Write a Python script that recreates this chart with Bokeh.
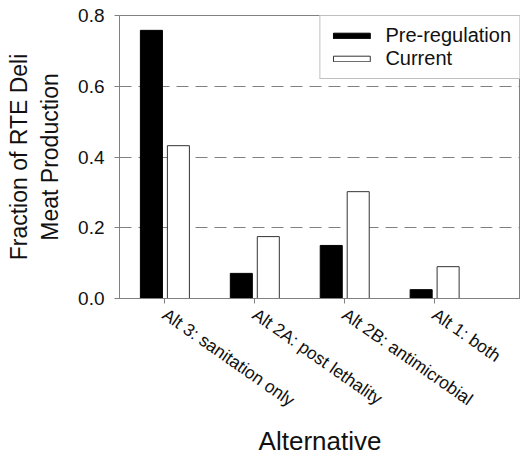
from bokeh.plotting import figure
from bokeh.models import ColumnDataSource, Range1d, FixedTicker, Legend, LegendItem, CustomJSTickFormatter
from bokeh.transform import dodge
from bokeh.embed import file_html
from bokeh.resources import INLINE

categories = ["Alt 3: sanitation only", "Alt 2A: post lethality",
              "Alt 2B: antimicrobial", "Alt 1: both"]
positions = [1, 2, 3, 4]
pre_regulation = [0.758, 0.071, 0.150, 0.025]
current = [0.432, 0.175, 0.302, 0.090]
y_ticks = [0.0, 0.2, 0.4, 0.6, 0.8]

FONT = "Liberation Sans"
GRAY = "#808080"

src = ColumnDataSource(dict(x=positions, pre=pre_regulation, cur=current))

p = figure(width=520, height=459, output_backend="svg", toolbar_location=None,
           x_range=Range1d(0.5, 4.96), y_range=Range1d(0, 0.8),
           min_border_left=119, min_border_right=0, min_border_top=15,
           min_border_bottom=161)

r1 = p.vbar(x=dodge("x", -0.145, range=p.x_range), top="pre", width=0.245, source=src,
            fill_color="black", line_color="black", line_width=1)
r2 = p.vbar(x=dodge("x", 0.155, range=p.x_range), top="cur", width=0.245, source=src,
            fill_color="white", line_color="#333333", line_width=1)

p.outline_line_color = GRAY
p.outline_line_width = 1
p.background_fill_color = "white"
p.border_fill_color = "white"

p.xgrid.visible = False
p.ygrid.ticker = FixedTicker(ticks=[0.2, 0.4, 0.6])
p.ygrid.grid_line_color = GRAY
p.ygrid.grid_line_dash = "12 7"
p.ygrid.grid_line_width = 1

ya = p.yaxis[0]
ya.ticker = FixedTicker(ticks=y_ticks)
ya.formatter = CustomJSTickFormatter(code="return tick.toFixed(1);")
ya.axis_line_color = GRAY
ya.major_tick_line_color = GRAY
ya.major_tick_out = 5
ya.major_tick_in = 0
ya.minor_tick_line_color = None
ya.major_label_text_font = FONT
ya.major_label_text_font_size = "19px"
ya.major_label_text_color = "#111111"
ya.major_label_standoff = 10
ya.axis_label = "Fraction of RTE Deli\nMeat Production"
ya.axis_label_text_font = FONT
ya.axis_label_text_font_size = "23px"
ya.axis_label_text_font_style = "normal"
ya.axis_label_text_color = "#111111"
ya.axis_label_standoff = 12

xa = p.xaxis[0]
xa.ticker = FixedTicker(ticks=positions)
xa.major_label_overrides = {pos: name for pos, name in zip(positions, categories)}
xa.major_label_orientation = -0.61
xa.axis_line_color = GRAY
xa.major_tick_line_color = GRAY
xa.major_tick_out = 5
xa.major_tick_in = 0
xa.minor_tick_line_color = None
xa.major_label_text_font = FONT
xa.major_label_text_font_size = "17.5px"
xa.major_label_text_color = "#111111"
xa.major_label_standoff = 9
xa.axis_label = "Alternative"
xa.axis_label_text_font = FONT
xa.axis_label_text_font_size = "26px"
xa.axis_label_text_font_style = "normal"
xa.axis_label_text_color = "#111111"
xa.axis_label_standoff = 4

legend = Legend(items=[LegendItem(label="Pre-regulation", renderers=[r1]),
                       LegendItem(label="Current", renderers=[r2])],
                location="top_right", margin=0, padding=8, spacing=0,
                glyph_width=46, glyph_height=7, label_standoff=11,
                label_text_font=FONT, label_text_font_size="20px",
                label_text_color="#111111",
                border_line_color=GRAY, border_line_width=1,
                background_fill_color="white", background_fill_alpha=1.0)
p.add_layout(legend)

open("out.html", "w").write(file_html(p, INLINE))
